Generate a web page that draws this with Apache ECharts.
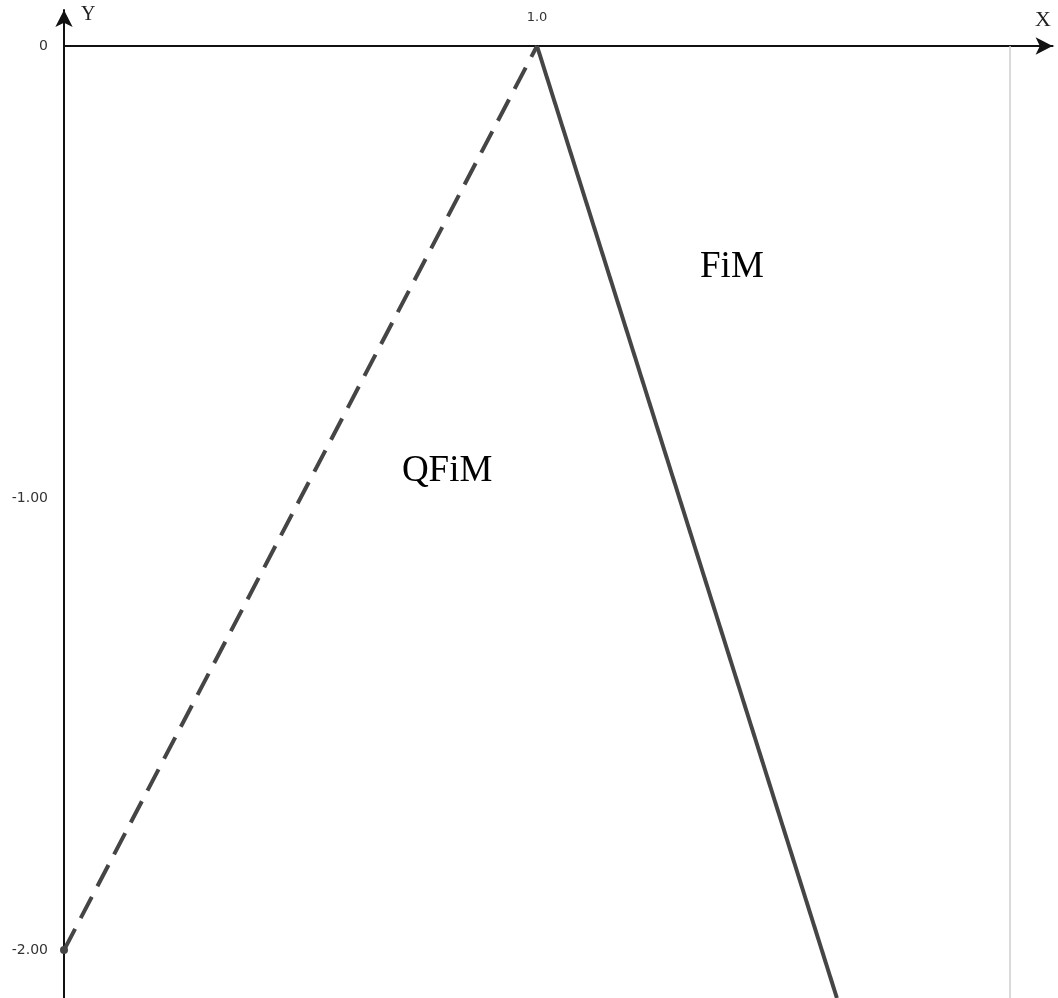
<!DOCTYPE html>
<html>
<head>
<meta charset="utf-8">
<script src="https://cdn.jsdelivr.net/npm/echarts@6/dist/echarts.min.js"></script>
<style>html,body{margin:0;padding:0;background:#fff}#c{width:1058px;height:998px}</style>
</head>
<body>
<div id="c"></div>
<script>
// Data
const qfimLine = [[0, -2], [1, 0]];          // dashed
const fimLine = [[1, 0], [1.634, -2.106]];   // solid
const boundaryX = [2, 2];
const boundaryY = [0, -2.106];
const annotations = [
  {text: 'FiM', x: 1.412, y: -0.49},
  {text: 'QFiM', x: 0.81, y: -0.94}
];
const xTicks = [1];
const yTicks = [0, -1, -2];
const xRange = [0, 2.09];
const yRange = [-2.106, 0.0796];

const chart = echarts.init(document.getElementById('c'), null, {renderer: 'canvas'});
const lineColor = '#454545';
chart.setOption({
  animation: false,
  backgroundColor: '#fff',
  grid: {left: 64, right: 5.4, top: 10, bottom: 0, containLabel: false, outerBoundsMode: 'none'},
  xAxis: {
    type: 'value', min: xRange[0], max: xRange[1], position: 'top',
    axisLine: {onZero: true, lineStyle: {color: '#111', width: 2}, symbol: ['none', 'arrow'], symbolSize: [13, 17]},
    axisTick: {show: false},
    splitLine: {show: false},
    axisLabel: {customValues: xTicks, formatter: v => v.toFixed(1), margin: -14, color: '#333', fontFamily: 'DejaVu Sans', fontSize: 13}
  },
  yAxis: {
    type: 'value', min: yRange[0], max: yRange[1],
    axisLine: {show: true, onZero: true, lineStyle: {color: '#111', width: 2}, symbol: ['none', 'arrow'], symbolSize: [13, 17]},
    axisTick: {show: false},
    splitLine: {show: false},
    axisLabel: {customValues: yTicks, formatter: v => v === 0 ? '0' : v.toFixed(2), margin: 16, color: '#333', fontFamily: 'DejaVu Sans', fontSize: 14}
  },
  graphic: [
    {type: 'text', left: 81, top: 5, style: {text: 'Y', font: '20px "Liberation Serif"', fill: '#222'}},
    {type: 'text', left: 1035, top: 9, style: {text: 'X', font: '22px "Liberation Serif"', fill: '#222'}}
  ],
  series: [
    {
      type: 'line', silent: true, clip: false,
      data: boundaryX.map((x, i) => [x, boundaryY[i]]),
      showSymbol: false,
      lineStyle: {color: '#cfcfcf', width: 1.5}
    },
    {
      type: 'line', silent: true, clip: false,
      data: qfimLine.map((p, i) => i === 0 ? {value: p, symbol: 'circle', symbolSize: 8} : {value: p, symbol: 'none'}),
      itemStyle: {color: lineColor},
      lineStyle: {color: lineColor, width: 4, type: [24, 12]}
    },
    {
      type: 'line', silent: true, clip: true,
      data: fimLine, showSymbol: false,
      lineStyle: {color: lineColor, width: 4}
    },
    {
      type: 'scatter', silent: true, symbolSize: 0,
      data: annotations.map(a => ({value: [a.x, a.y], name: a.text})),
      label: {show: true, position: 'inside', formatter: p => p.name, fontFamily: 'Liberation Serif', fontSize: 37, color: '#000', opacity: 1, textBorderWidth: 0}
    }
  ]
});
</script>
</body>
</html>
